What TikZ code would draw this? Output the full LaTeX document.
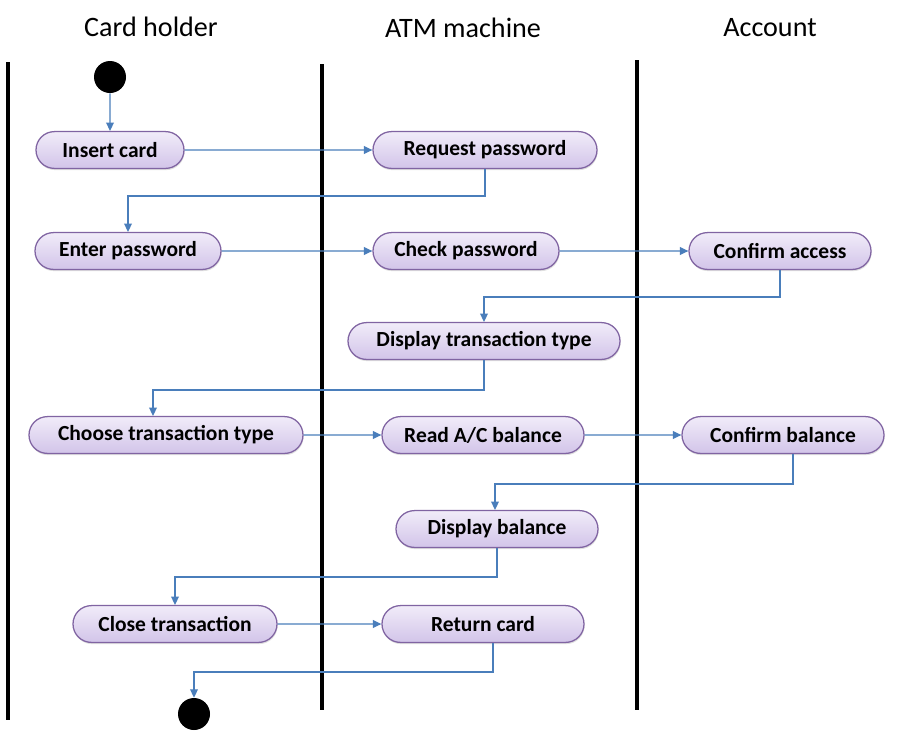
\documentclass[tikz,border=0pt]{standalone}
\usepackage{fontspec}
\setmainfont{Carlito}
\usetikzlibrary{shapes.misc,arrows.meta,shadows}

\definecolor{flowblue}{RGB}{74,126,187}
\definecolor{actline}{RGB}{128,100,162}
\definecolor{acttop}{RGB}{241,236,249}
\definecolor{actbot}{RGB}{210,196,233}

\tikzset{
	act/.style={rounded rectangle, draw=actline, line width=0.9pt,
		top color=acttop, bottom color=actbot, minimum height=9.2mm,
		inner xsep=2mm, font=\fontsize{15.3}{18}\selectfont\bfseries,
		drop shadow={shadow xshift=0.4pt, shadow yshift=-1.2pt, opacity=0.25}},
	flow/.style={draw=flowblue, line width=0.9pt, -{Triangle[length=6pt,width=5.5pt]}},
	lane/.style={line width=2.4pt},
	dot/.style={circle, fill=black, minimum size=8mm, inner sep=0pt},
	head/.style={font=\fontsize{20}{24}\selectfont}
}

\begin{document}
\begin{tikzpicture}[x=0.25mm,y=-0.25mm]
		\fill[white] (0,0) rectangle (900,740);
		\useasboundingbox (0,0) rectangle (900,740);
		% corsie
		\node[head] (hcard) at (151,27) {Card holder};
		\node[head] (hatm) at (463,28) {ATM machine};
		\node[head] (hacc) at (770,28) {Account};
		\draw[lane] (8,62) -- (8,720);
		\draw[lane] (322,64) -- (322,710);
		\draw[lane] (637,60) -- (637,710);
		% stati
		\node[dot] (start) at (110,77) {};
		\node[act, minimum width=41mm] (insert) at (110,150) {Insert card};
		\node[act, minimum width=60mm] (reqpw) at (485,150) {Request password};
		\node[act, minimum width=50.5mm] (enterpw) at (128,251) {Enter password};
		\node[act, minimum width=50.5mm] (checkpw) at (466,251) {Check password};
		\node[act, minimum width=49.5mm] (confacc) at (780,251) {Confirm access};
		\node[act, minimum width=72mm] (disptype) at (484,341) {Display transaction type};
		\node[act, minimum width=72.5mm] (choose) at (166,435) {Choose transaction type};
		\node[act, minimum width=54.5mm] (readbal) at (483,435) {Read A/C balance};
		\node[act, minimum width=54.5mm] (confbal) at (783,435) {Confirm balance};
		\node[act, minimum width=54.5mm] (dispbal) at (497,529) {Display balance};
		\node[act, minimum width=55mm] (close) at (175,624) {Close transaction};
		\node[act, minimum width=54.5mm] (retcard) at (483,624) {Return card};
		\node[dot] (stop) at (194,714) {};
		% collegamenti
		\draw[flow] (start) -- (insert);
		\draw[flow] (insert) -- (reqpw);
		\draw[flow] (reqpw.south) |- (enterpw.north |- 0,196) -- (enterpw.north);
		\draw[flow] (enterpw) -- (checkpw);
		\draw[flow] (checkpw) -- (confacc);
		\draw[flow] (confacc.south) |- (disptype.north |- 0,297) -- (disptype.north);
		\draw[flow] (disptype.south) |- ([xshift=-3.25mm]choose.north |- 0,390) -- ([xshift=-3.25mm]choose.north);
		\draw[flow] (choose) -- (readbal);
		\draw[flow] (readbal) -- (confbal);
		\draw[flow] ([xshift=2.5mm]confbal.south) |- ([xshift=-0.5mm]dispbal.north |- 0,484) -- ([xshift=-0.5mm]dispbal.north);
		\draw[flow] (dispbal.south) |- (close.north |- 0,577) -- (close.north);
		\draw[flow] (close) -- (retcard);
		\draw[flow] ([xshift=2.5mm]retcard.south) |- (stop.north |- 0,672) -- (stop.north);
	\end{tikzpicture}
\end{document}
